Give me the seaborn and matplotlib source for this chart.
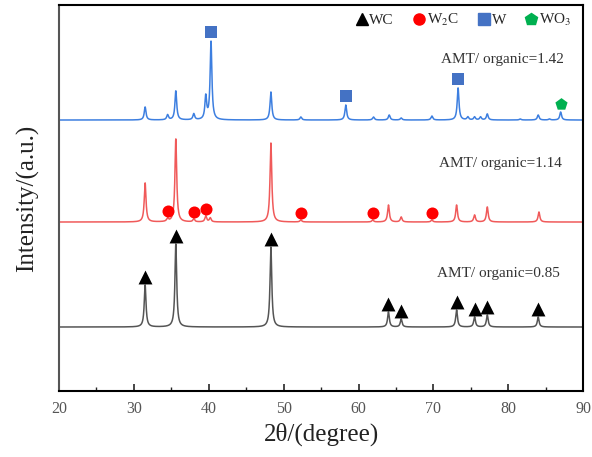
import numpy as np
import pandas as pd
import matplotlib
matplotlib.use("Agg")
import matplotlib.pyplot as plt
import seaborn as sns
from matplotlib.lines import Line2D

# ---- data (intensity in arbitrary units) ----
# AMT/organic = 0.85 (black)
pos_085 = [31.5, 35.6, 48.3, 64.0, 65.7, 73.1, 75.5, 77.2, 84.0]
h_085 = [42, 83, 80, 15, 8, 17, 10, 12, 10]
base_085 = 64

# AMT/organic = 1.14 (red)
pos_114 = [31.5, 34.5, 35.6, 38.0, 39.6, 40.2, 48.3, 52.3, 61.9, 64.0, 65.7, 69.8, 73.1, 75.5, 77.2, 84.1]
h_114 = [39, 3, 83, 3, 6, 4, 79, 2, 2, 17, 5, 2, 17, 7, 15, 10]
base_114 = 169

# AMT/organic = 1.42 (blue)
pos_142 = [31.5, 34.5, 35.6, 38.0, 39.6, 40.3, 48.3, 52.3, 58.3, 62.0, 64.1, 65.7, 69.8,
           73.3, 74.6, 75.5, 76.3, 77.2, 81.6, 84.0, 85.5, 87.0]
h_142 = [13, 5, 29, 6, 23, 78, 28, 3, 15, 3, 5, 2, 4, 32, 3, 3, 3, 6, 1, 5, 1, 8]
base_142 = 271

# phase markers (peak positions)
wc_marks = [31.5, 35.6, 48.3, 64.0, 65.7, 73.1, 75.5, 77.2, 84.0]
w2c_marks = [34.5, 38.0, 39.6, 52.3, 61.9, 69.8]
w_marks = [40.3, 58.3, 73.3]
wo3_marks = [87.0]

labels = ["AMT/ organic=0.85", "AMT/ organic=1.14", "AMT/ organic=1.42"]
x_ticks = [20, 30, 40, 50, 60, 70, 80, 90]

# ---- build curves ----
tt = np.linspace(20, 90, 7001)
HW = 0.14


def profile(pos, h, base):
    y = np.full_like(tt, float(base))
    for p, a in zip(pos, h):
        y += a * HW**2 / ((tt - p) ** 2 + HW**2)
    return y


def at(pos, h, base, x):
    return base + sum(a * HW**2 / ((x - p) ** 2 + HW**2) for p, a in zip(pos, h))


y085 = profile(pos_085, h_085, base_085)
y114 = profile(pos_114, h_114, base_114)
y142 = profile(pos_142, h_142, base_142)

df = pd.concat([
    pd.DataFrame({"t": tt, "I": y085, "s": labels[0]}),
    pd.DataFrame({"t": tt, "I": y114, "s": labels[1]}),
    pd.DataFrame({"t": tt, "I": y142, "s": labels[2]}),
])

sns.set_theme(style="white")
plt.rcParams["font.family"] = ["Liberation Serif", "DejaVu Serif"]
plt.rcParams["mathtext.fontset"] = "stix"

fig = plt.figure(figsize=(5.92, 4.57), dpi=100)
ax = fig.add_axes([0.0997, 0.1444, 0.8853, 0.8446])

colors = {labels[0]: "#555555", labels[1]: "#f05a5a", labels[2]: "#3d7fe0"}
for lab in labels:
    sns.lineplot(data=df[df["s"] == lab], x="t", y="I", color=colors[lab], lw=1.1,
                 estimator=None, sort=False, ax=ax, legend=False)

off = 7
ax.scatter(wc_marks, [at(pos_085, h_085, base_085, p) + off + 1 for p in wc_marks],
           marker="^", s=100, color="black", zorder=5, linewidths=0)
ax.scatter(w2c_marks, [at(pos_114, h_114, base_114, p) + off for p in w2c_marks],
           marker="o", s=75, color="#ff0000", zorder=5, linewidths=0)
ax.scatter(w_marks, [at(pos_142, h_142, base_142, p) + off + 2 for p in w_marks],
           marker="s", s=85, color="#4472c4", zorder=5, linewidths=0)
ax.scatter(wo3_marks, [at(pos_142, h_142, base_142, p) + off + 1 for p in wo3_marks],
           marker="p", s=85, color="#00b050", zorder=5, linewidths=0)

# series labels
ax.text(79.2, 332, labels[2], ha="center", va="center", fontsize=11, color="#333333")
ax.text(78.9, 228, labels[1], ha="center", va="center", fontsize=11, color="#333333")
ax.text(78.7, 118, labels[0], ha="center", va="center", fontsize=11, color="#333333")

ax.set_xlim(20, 90)
ax.set_ylim(0, 386)
ax.set_xticks(x_ticks)
ax.set_xticks(np.arange(25, 90, 10), minor=True)
ax.set_yticks([])
ax.tick_params(axis="x", which="major", direction="in", length=5, width=1.2,
               labelsize=11.5, labelcolor="#555555", bottom=True, pad=7)
ax.tick_params(axis="x", which="minor", direction="in", length=3, width=1.0, bottom=True)
for sp in ax.spines.values():
    sp.set_color("black")
    sp.set_linewidth(1.5)
ax.spines["left"].set_color("#555555")

ax.set_xlabel("2θ/(degree)", fontsize=18, color="#222222", labelpad=4)
ax.set_ylabel("Intensity/(a.u.)", fontsize=18, color="#222222", labelpad=14)

handles = [
    Line2D([], [], marker="^", color="black", ls="none", markersize=8.5),
    Line2D([], [], marker="o", color="#ff0000", ls="none", markersize=8),
    Line2D([], [], marker="s", color="#4472c4", ls="none", markersize=8),
    Line2D([], [], marker="p", color="#00b050", ls="none", markersize=9),
]
leg = ax.legend(handles, ["WC", "W$_2$C", "W", "WO$_3$"], ncol=4, loc="center right",
                bbox_to_anchor=(0.977, 0.961), frameon=False, handletextpad=0.0,
                columnspacing=1.15, fontsize=11, handlelength=1.0, borderpad=0.0,
                borderaxespad=0.0)

fig.savefig("out.png", dpi=100)
